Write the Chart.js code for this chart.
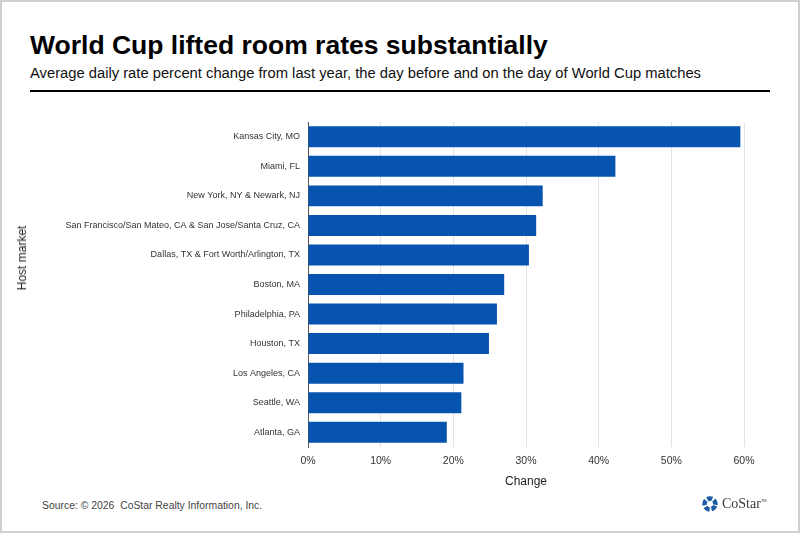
<!DOCTYPE html>
<html lang="en">
<head>
  <meta charset="UTF-8" />
  <title>World Cup lifted room rates substantially</title>
  <script src="https://cdn.jsdelivr.net/npm/chart.js"></script>
  <style>
    html, body {
      margin: 0;
      padding: 0;
      background: #fff;
    }
    #frame {
      position: relative;
      width: 800px;
      height: 533px;
      box-sizing: border-box;
      border: 2px solid #cfcfcf;
      overflow: hidden;
      font-family: 'Liberation Sans', Arial, sans-serif;
    }
    h1 {
      position: absolute;
      left: 28px;
      top: 28px;
      margin: 0;
      font-size: 26.5px;
      font-weight: bold;
      color: #000;
    }
    .subtitle {
      position: absolute;
      left: 28px;
      top: 63px;
      font-size: 14.75px;
      color: #111;
    }
    .rule {
      position: absolute;
      left: 28px;
      top: 88px;
      width: 740px;
      height: 1.5px;
      background: #000;
    }
    #chartBox {
      position: absolute;
      left: -2px;
      top: 98px;
      width: 800px;
      height: 400px;
    }
    .ytitle {
      position: absolute;
      left: 20px;
      top: 256px;
      font-size: 12px;
      color: #222;
      white-space: nowrap;
      transform: translate(-50%, -50%) rotate(-90deg);
    }
    .source {
      position: absolute;
      left: 40px;
      top: 498px;
      font-size: 10.4px;
      color: #444;
    }
    .logo {
      position: absolute;
      left: 699px;
      top: 493px;
      display: flex;
      align-items: center;
      font-family: 'Liberation Serif', 'DejaVu Serif', serif;
      font-size: 14px;
      color: #3a3a3a;
    }
    .logo svg {
      margin-right: 3px;
    }
    .logo sup {
      font-size: 4px;
      font-family: 'Liberation Sans', sans-serif;
      vertical-align: 6px;
    }
  </style>
</head>
<body>
  <div id="frame">
    <h1>World Cup lifted room rates substantially</h1>
    <div class="subtitle">Average daily rate percent change from last year, the day before and on the day of World Cup matches</div>
    <div class="rule"></div>
    <div id="chartBox"><canvas id="rateChart"></canvas></div>
    <div class="ytitle">Host market</div>
    <div class="source">Source: &copy; 2026&nbsp; CoStar Realty Information, Inc.</div>
    <div class="logo">
      <svg width="18" height="18" viewBox="0 0 20 20">
        <circle cx="10" cy="10" r="6" fill="none" stroke="#1c5ba8" stroke-width="5"
                stroke-dasharray="5.5 2" transform="rotate(20 10 10)" />
      </svg>
      <span>CoStar<sup>TM</sup></span>
    </div>
  </div>

  <script>
    const markets = [
      'Kansas City, MO',
      'Miami, FL',
      'New York, NY & Newark, NJ',
      'San Francisco/San Mateo, CA & San Jose/Santa Cruz, CA',
      'Dallas, TX & Fort Worth/Arlington, TX',
      'Boston, MA',
      'Philadelphia, PA',
      'Houston, TX',
      'Los Angeles, CA',
      'Seattle, WA',
      'Atlanta, GA'
    ];
    // percent change in ADR vs last year
    const changePct = [59.5, 42.3, 32.3, 31.4, 30.4, 27.0, 26.0, 24.9, 21.4, 21.1, 19.1];
    const xTicks = [0, 10, 20, 30, 40, 50, 60];

    const ctx = document.getElementById('rateChart');
    new Chart(ctx, {
      type: 'bar',
      data: {
        labels: markets,
        datasets: [{
          label: 'Change',
          data: changePct,
          backgroundColor: '#0653b0',
          categoryPercentage: 0.71,
          barPercentage: 1
        }]
      },
      options: {
        indexAxis: 'y',
        responsive: true,
        maintainAspectRatio: false,
        animation: false,
        layout: {
          padding: { left: 8, right: 56, top: 22, bottom: 10 }
        },
        plugins: {
          legend: { display: false },
          tooltip: { enabled: false }
        },
        scales: {
          x: {
            min: 0,
            max: 60,
            afterBuildTicks: scale => {
              scale.ticks = xTicks.map(v => ({ value: v }));
            },
            afterFit: scale => { scale.height = 43; },
            grid: {
              color: '#e3e3e3',
              drawTicks: false
            },
            border: { display: false },
            ticks: {
              padding: 8,
              color: '#333',
              font: { family: "'Liberation Sans', Arial, sans-serif", size: 10.5 },
              callback: v => v + '%'
            },
            title: {
              display: true,
              text: 'Change',
              color: '#222',
              padding: { top: 0, bottom: 1 },
              font: { family: "'Liberation Sans', Arial, sans-serif", size: 12 }
            }
          },
          y: {
            afterFit: scale => { scale.width = 300; },
            grid: {
              display: false,
              drawTicks: false
            },
            border: {
              display: true,
              color: '#555',
              width: 1
            },
            ticks: {
              padding: 8,
              color: '#333',
              autoSkip: false,
              font: { family: "'Liberation Sans', Arial, sans-serif", size: 9 }
            }
          }
        }
      }
    });
  </script>
</body>
</html>
